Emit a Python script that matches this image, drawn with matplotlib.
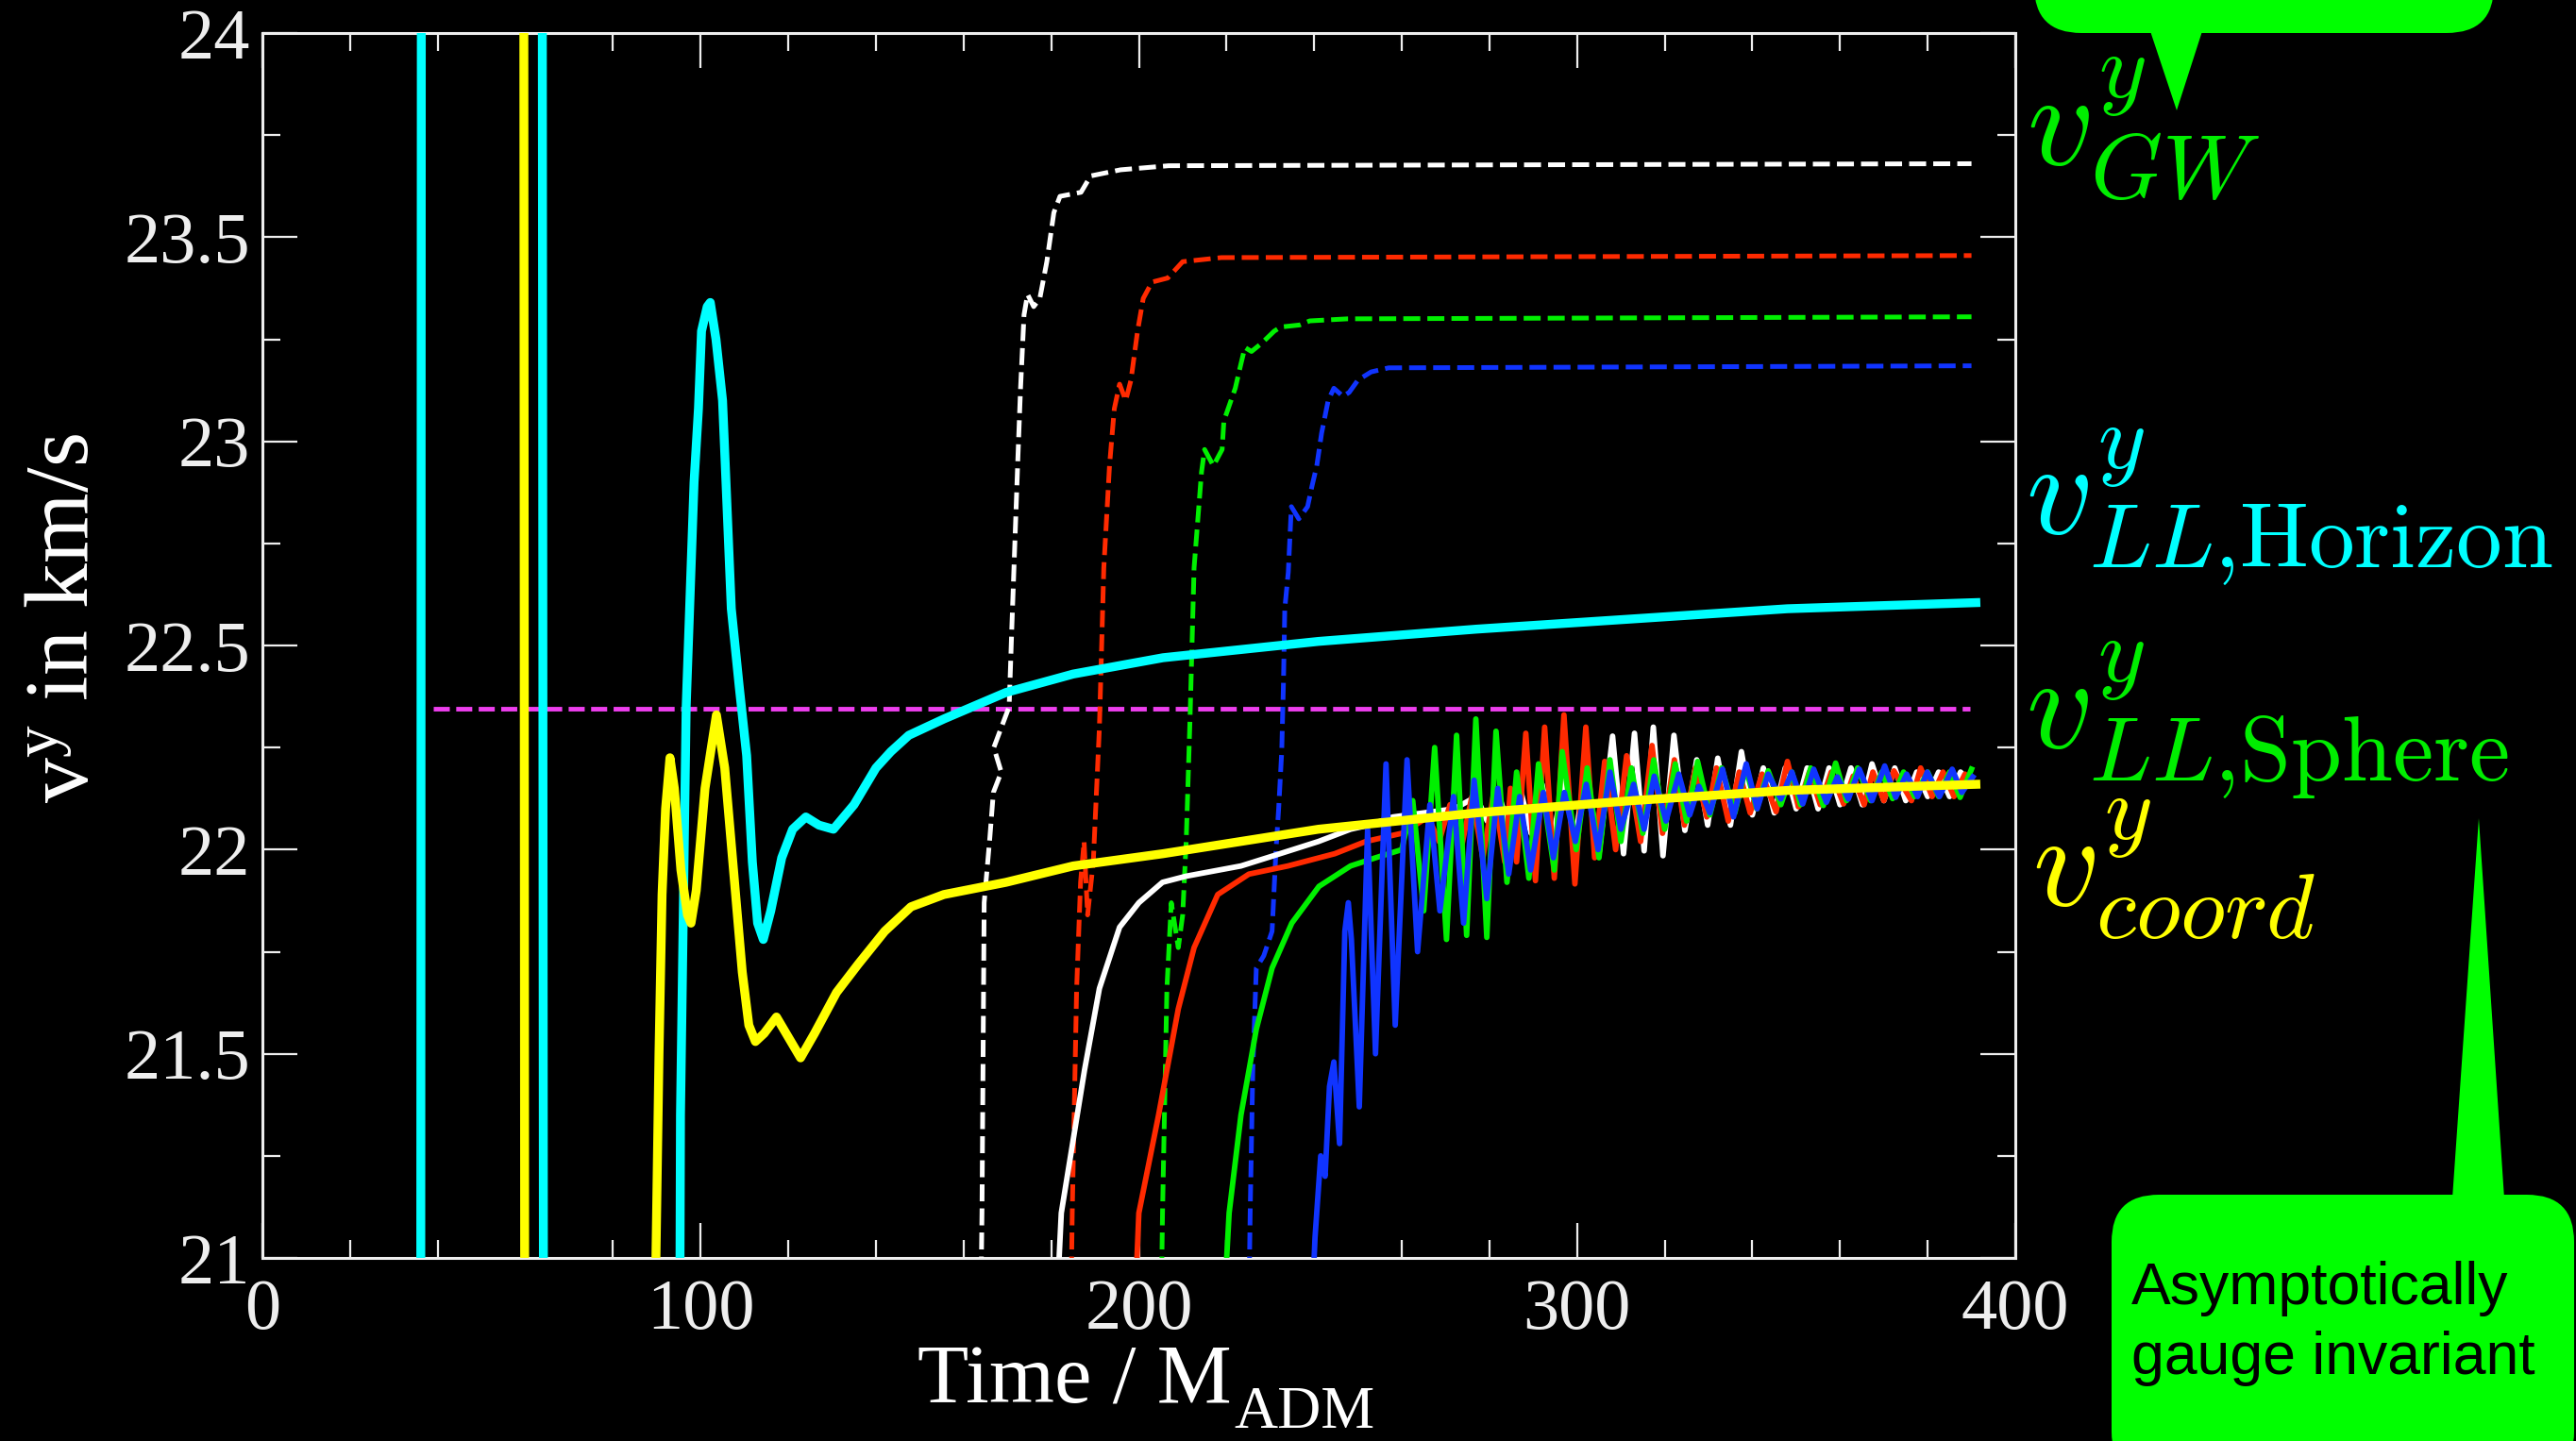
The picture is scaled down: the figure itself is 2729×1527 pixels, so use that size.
import numpy as np
import matplotlib
matplotlib.use("Agg")
import matplotlib.pyplot as plt
from matplotlib.patches import FancyBboxPatch, Polygon
from matplotlib.ticker import MultipleLocator

plt.rcParams['font.family'] = ['Liberation Serif', 'DejaVu Serif']
plt.rcParams['mathtext.fontset'] = 'custom'
plt.rcParams['mathtext.rm'] = 'Liberation Serif'
plt.rcParams['mathtext.it'] = 'Liberation Serif:italic'

# ---- data: (time, v^y) ----
# thick lines
horizon = [(0, 20.0), (36.1, 20.0), (36.3, 25.0), (63.8, 25.0), (64.2, 20.0), (95.0, 20.0),
           (95.4, 21.35), (96.7, 22.35), (98.5, 22.90), (99.5, 23.08), (100.2, 23.27),
           (101.5, 23.33), (102.2, 23.34), (103.5, 23.25), (105.0, 23.10), (107.0, 22.59),
           (108.8, 22.40), (110.5, 22.23), (111.8, 21.97), (113.0, 21.82), (114.3, 21.78),
           (116.0, 21.85), (118.5, 21.98), (121.0, 22.05), (124.0, 22.08), (127.0, 22.06),
           (130.3, 22.05), (135.0, 22.11), (140.0, 22.20), (143.4, 22.24), (147.5, 22.28),
           (155.5, 22.32), (169.7, 22.385), (185.0, 22.43), (205.5, 22.47), (241.0, 22.51),
           (277.0, 22.54), (312.6, 22.565), (348.0, 22.59), (391.0, 22.605)]

coord = [(0, 25.0), (59.6, 25.0), (59.9, 20.0), (89.6, 20.0), (89.8, 21.0), (90.5, 21.5),
         (91.2, 21.89), (92.0, 22.10), (93.0, 22.225), (94.0, 22.15), (95.5, 21.95),
         (97.0, 21.84), (97.8, 21.82), (99.0, 21.90), (101.0, 22.15), (103.6, 22.33),
         (105.5, 22.20), (107.5, 21.95), (109.5, 21.70), (111.0, 21.57), (112.5, 21.53),
         (114.5, 21.55), (117.3, 21.59), (119.5, 21.55), (122.8, 21.49), (126.0, 21.55),
         (131.0, 21.65), (136.0, 21.72), (142.0, 21.80), (148.0, 21.86), (155.5, 21.89),
         (169.7, 21.92), (185.0, 21.96), (205.5, 21.99), (241.0, 22.05), (277.0, 22.09),
         (312.6, 22.12), (348.0, 22.145), (391.0, 22.16)]

sphere_mean_t = [39.0, 389.7]
sphere_mean_v = [22.345, 22.345]

# dashed GW curves (four resolutions)
gw_white = [(163.5, 20.5), (164.2, 21.11), (164.7, 21.87), (166.0, 22.03), (166.8, 22.14),
            (168.6, 22.19), (166.9, 22.25), (170.4, 22.35), (171.0, 22.54), (171.5, 22.69),
            (172.4, 22.96), (173.0, 23.13), (173.8, 23.31), (174.6, 23.36), (176.0, 23.33),
            (177.4, 23.35), (179.0, 23.44), (180.6, 23.56), (182.0, 23.60), (186.8, 23.61),
            (189.0, 23.65), (195.8, 23.665), (206.8, 23.675), (390.0, 23.68)]
gw_red = [(184.0, 20.5), (184.8, 21.11), (185.8, 21.66), (186.7, 21.92), (187.5, 22.02),
          (188.3, 21.84), (189.6, 21.97), (191.0, 22.30), (192.0, 22.69), (193.3, 22.94),
          (194.4, 23.08), (195.6, 23.14), (197.0, 23.10), (198.2, 23.15), (199.7, 23.27),
          (201.0, 23.35), (203.0, 23.39), (206.6, 23.40), (210.0, 23.44), (218.8, 23.45),
          (390.0, 23.455)]
gw_green = [(204.6, 20.5), (205.4, 21.11), (206.4, 21.66), (207.4, 21.87), (209.0, 21.76),
            (210.0, 21.84), (210.8, 22.02), (211.7, 22.33), (212.6, 22.69), (214.3, 22.925),
            (215.0, 22.98), (217.0, 22.94), (219.0, 22.98), (219.4, 23.05), (222.0, 23.13),
            (223.3, 23.19), (224.2, 23.23), (225.7, 23.22), (228.0, 23.24), (230.9, 23.27),
            (232.4, 23.28), (236.7, 23.285), (239.0, 23.295), (247.6, 23.30), (390.0, 23.305)]
gw_blue = [(224.6, 20.5), (225.4, 21.11), (226.0, 21.46), (226.8, 21.71), (228.5, 21.74),
           (230.4, 21.80), (231.3, 22.00), (231.9, 22.10), (232.6, 22.24), (233.0, 22.41),
           (233.3, 22.59), (234.1, 22.68), (234.8, 22.84), (236.5, 22.81), (238.5, 22.84),
           (239.5, 22.89), (240.6, 22.94), (241.7, 23.02), (243.2, 23.10), (244.5, 23.13),
           (246.6, 23.11), (248.0, 23.12), (250.0, 23.15), (253.0, 23.17), (257.0, 23.18),
           (390.0, 23.185)]

# thin solid LL sphere curves (four resolutions)
ll_white = [(180.0, 20.6), (182.3, 21.11), (187.6, 21.46), (191.0, 21.66), (195.6, 21.81),
            (200.0, 21.87), (205.4, 21.92), (210.8, 21.935), (223.3, 21.96), (232.2, 21.99),
            (241.0, 22.02), (248.3, 22.05), (252.5, 22.06), (258.0, 22.08), (265.0, 22.09),
            (272.0, 22.10), (277.0, 22.13), (279.5, 22.07), (282.0, 22.14), (284.5, 22.05),
            (287.0, 22.15), (289.5, 22.04), (292.0, 22.16), (294.5, 22.03), (297.0, 22.17),
            (299.5, 22.02), (302.0, 22.20), (305.0, 21.99), (308.1, 22.278), (310.6, 21.99),
            (313.1, 22.285), (315.3, 21.997), (317.4, 22.30), (319.6, 21.985), (322.1, 22.28),
            (324.6, 22.047), (327.3, 22.22), (329.8, 22.06), (332.1, 22.224), (335.0, 22.06),
            (337.5, 22.24), (340.0, 22.085), (342.5, 22.20), (345.0, 22.09), (347.5, 22.20),
            (350.0, 22.10), (352.5, 22.20), (355.0, 22.10), (357.5, 22.20), (360.0, 22.11),
            (362.5, 22.20), (365.1, 22.11), (367.3, 22.21), (370.0, 22.12), (372.5, 22.20),
            (375.0, 22.12), (377.5, 22.19), (380.0, 22.13), (382.5, 22.19), (385.0, 22.13),
            (387.5, 22.19), (390.0, 22.16)]
ll_red = [(198.0, 20.6), (200.0, 21.11), (204.5, 21.35), (209.0, 21.61), (212.6, 21.76),
          (218.0, 21.89), (225.1, 21.94), (234.0, 21.96), (244.7, 21.99), (251.8, 22.02),
          (260.0, 22.04), (266.0, 22.08), (268.5, 22.02), (271.0, 22.11), (273.5, 22.00),
          (276.0, 22.13), (278.5, 21.98), (281.0, 22.14), (283.5, 21.97), (284.8, 22.15),
          (286.2, 21.97), (288.3, 22.285), (290.5, 21.924), (292.6, 22.30), (294.8, 21.93),
          (297.0, 22.33), (299.5, 21.916), (302.0, 22.30), (304.0, 21.98), (306.3, 22.216),
          (308.8, 22.00), (311.3, 22.23), (314.5, 22.02), (317.1, 22.255), (319.5, 22.04),
          (322.2, 22.22), (324.5, 22.06), (327.0, 22.20), (329.6, 22.08), (331.8, 22.20),
          (334.5, 22.07), (337.0, 22.19), (339.5, 22.09), (342.2, 22.185), (345.4, 22.093),
          (348.0, 22.216), (350.5, 22.105), (353.0, 22.19), (355.5, 22.11), (358.0, 22.19),
          (360.8, 22.112), (363.0, 22.18), (365.5, 22.11), (367.5, 22.19), (370.0, 22.12),
          (372.3, 22.193), (376.3, 22.12), (378.4, 22.20), (381.0, 22.13), (383.5, 22.19),
          (386.0, 22.13), (388.5, 22.185), (390.0, 22.16)]
ll_green = [(218.0, 20.6), (220.6, 21.11), (223.3, 21.35), (226.8, 21.56), (230.4, 21.71),
            (234.9, 21.82), (241.1, 21.91), (248.3, 21.96), (254.0, 21.98), (260.0, 22.00),
            (262.5, 22.12), (265.0, 21.85), (267.5, 22.25), (270.2, 21.78), (272.5, 22.28),
            (274.8, 21.79), (276.9, 22.32), (279.4, 21.785), (281.5, 22.29), (284.0, 21.92),
            (286.2, 22.19), (289.0, 21.93), (291.2, 22.21), (294.8, 21.95), (296.6, 22.24),
            (299.8, 22.00), (302.3, 22.20), (305.0, 21.98), (307.5, 22.22), (310.0, 22.02),
            (312.4, 22.20), (315.0, 22.04), (317.5, 22.22), (320.0, 22.05), (322.4, 22.21),
            (325.0, 22.07), (327.5, 22.216), (330.3, 22.085), (333.0, 22.20), (336.0, 22.09),
            (338.5, 22.20), (341.0, 22.10), (343.6, 22.193), (346.5, 22.11), (349.0, 22.19),
            (351.0, 22.11), (353.3, 22.20), (356.2, 22.108), (359.0, 22.212), (361.5, 22.12),
            (364.0, 22.20), (367.0, 22.12), (369.5, 22.19), (372.0, 22.125), (374.5, 22.19),
            (377.0, 22.13), (380.0, 22.19), (382.5, 22.13), (385.0, 22.19), (387.4, 22.128),
            (390.0, 22.197)]
ll_blue = [(238.0, 20.5), (240.2, 21.05), (241.5, 21.25), (242.5, 21.20), (243.5, 21.42),
           (244.5, 21.48), (245.8, 21.28), (247.0, 21.80), (247.8, 21.87), (248.5, 21.78),
           (250.3, 21.37), (252.2, 22.05), (254.0, 21.50), (256.4, 22.21), (258.5, 21.57),
           (261.2, 22.22), (263.6, 21.75), (266.4, 22.11), (268.7, 21.85), (271.8, 22.13),
           (274.1, 21.82), (276.5, 22.17), (279.4, 21.88), (281.9, 22.15), (284.4, 21.94),
           (286.9, 22.13), (289.4, 21.95), (292.3, 22.14), (294.6, 21.98), (297.1, 22.14),
           (299.6, 22.02), (302.1, 22.16), (304.8, 22.00), (307.5, 22.19), (310.0, 22.05),
           (312.9, 22.16), (315.3, 22.05), (317.6, 22.18), (320.3, 22.07), (323.2, 22.185),
           (325.7, 22.085), (327.8, 22.155), (330.3, 22.09), (333.2, 22.197), (335.7, 22.08),
           (338.6, 22.21), (341.1, 22.10), (343.6, 22.185), (346.5, 22.124), (349.0, 22.19),
           (351.5, 22.112), (354.0, 22.197), (356.9, 22.116), (359.4, 22.178), (361.9, 22.124),
           (364.4, 22.197), (367.3, 22.12), (370.2, 22.205), (372.7, 22.128), (375.2, 22.185),
           (377.7, 22.13), (379.9, 22.19), (382.7, 22.13), (385.6, 22.197), (387.8, 22.14),
           (390.3, 22.178)]

res_colors = ['#ffffff', '#ff2a00', '#00f000', '#1034ff']

W, H = 2729, 1527


def fx(x):
    return x / W


def fy(y):
    return 1 - y / H


fig = plt.figure(figsize=(W / 100, H / 100), dpi=100, facecolor='black')
ax = fig.add_axes([fx(278), fy(1333), (2135 - 278) / W, (1333 - 35) / H])
ax.set_facecolor('black')

# magenta dashed reference
ax.plot(sphere_mean_t, sphere_mean_v, color='#ee3fee', lw=3.5, dashes=(3.5, 1.4), zorder=2)

for curve, c in zip([gw_white, gw_red, gw_green, gw_blue], res_colors):
    t, v = np.array(curve).T
    ax.plot(t, v, color=c, lw=3.6, dashes=(3.6, 1.5), zorder=3)

for curve, c in zip([ll_white, ll_red, ll_green, ll_blue], res_colors):
    t, v = np.array(curve).T
    ax.plot(t, v, color=c, lw=4.2, zorder=4)

t, v = np.array(horizon).T
ax.plot(t, v, color='#00ffff', lw=6.8, zorder=5)
t, v = np.array(coord).T
ax.plot(t, v, color='#ffff00', lw=6.8, zorder=6)

ax.set_xlim(0, 400)
ax.set_ylim(21, 24)
ax.xaxis.set_major_locator(MultipleLocator(100))
ax.xaxis.set_minor_locator(MultipleLocator(20))
ax.yaxis.set_major_locator(MultipleLocator(0.5))
ax.yaxis.set_minor_locator(MultipleLocator(0.25))
ax.yaxis.set_major_formatter(plt.FuncFormatter(lambda y, p: f'{y:g}'))
ax.tick_params(which='both', direction='in', top=True, right=True, colors='#eeeeee',
               width=1.6, labelsize=55)
ax.tick_params(which='major', length=26.5)
ax.tick_params(which='minor', length=14)
ax.tick_params(axis='x', pad=16)
ax.tick_params(axis='y', pad=9)
for s in ax.spines.values():
    s.set_color('#eeeeee')
    s.set_linewidth(2.2)

# axis labels
fig.text(fx(1305), fy(1486), 'Time / M', color='white', fontsize=64,
         ha='right', va='baseline')
fig.text(fx(1307), fy(1513), 'ADM', color='white', fontsize=46,
         ha='left', va='baseline')
fig.text(fx(70), fy(655), r'v$^{\mathrm{y}}$ in km/s', color='white', fontsize=69,
         ha='center', va='center', rotation=90)

# right side labels
labels = [(r'$v^y_{GW}$', '#00ee00', 2147, 176),
          (r'$v^y_{LL{,}\mathrm{Horizon}}$', '#00ffff', 2146, 566),
          (r'$v^y_{LL{,}\mathrm{Sphere}}$', '#00ee00', 2146, 793),
          (r'$v^y_{coord}$', '#ffff00', 2153, 960)]
for txt, c, x, y in labels:
    fig.text(fx(x), fy(y), txt, color=c, fontsize=100, ha='left', va='baseline',
             math_fontfamily='cm')

# speech bubbles (display pixels)
bubble = '#00ff00'
fig.add_artist(FancyBboxPatch((2155, H - 35), 2642 - 2155, 200,
                              boxstyle='round,pad=0,rounding_size=50', fc=bubble, ec='none',
                              transform=None))
fig.add_artist(Polygon([(2277, H - 30), (2334, H - 30), (2306, H - 117)], closed=True,
                       fc=bubble, ec='none', transform=None))
fig.add_artist(FancyBboxPatch((2237, -40), 2727 - 2237, H - 1266 + 40,
                              boxstyle='round,pad=0,rounding_size=50', fc=bubble, ec='none',
                              transform=None))
fig.add_artist(Polygon([(2598, H - 1270), (2653, H - 1270), (2626, H - 867)], closed=True,
                       fc=bubble, ec='none', transform=None))
fig.text(fx(2258), fy(1382), 'Asymptotically', family='Liberation Sans', fontsize=45,
         color='black', ha='left', va='baseline')
fig.text(fx(2258), fy(1456), 'gauge invariant', family='Liberation Sans', fontsize=45,
         color='black', ha='left', va='baseline')

fig.savefig('out.png', dpi=100, facecolor='black')
